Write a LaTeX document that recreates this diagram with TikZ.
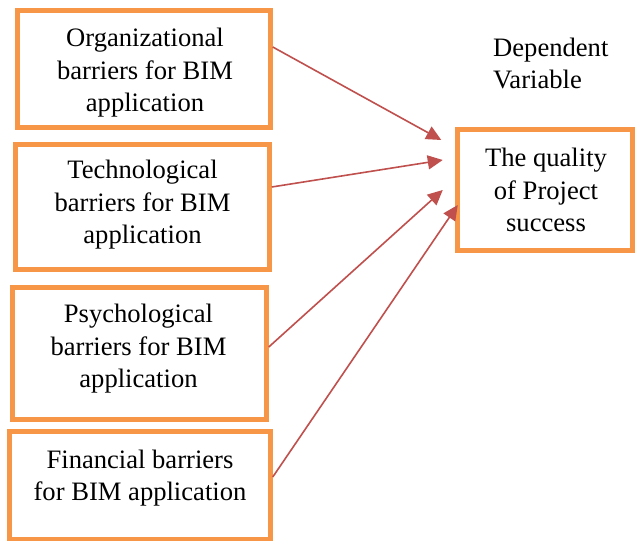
\documentclass[tikz,border=0pt]{standalone}
\usepackage{fontspec}
\setmainfont{Liberation Serif}
\usetikzlibrary{arrows.meta}
\definecolor{boxorange}{HTML}{F79646}
\definecolor{arrred}{HTML}{C0504D}
\tikzset{
  box/.style={draw=boxorange, line width=4.5bp, rectangle, inner sep=0pt},
  txt/.style={align=center, inner sep=0pt, font=\fontsize{26.6bp}{32.5bp}\selectfont},
  conn/.style={draw=arrred, line width=1.6bp, -{Triangle[length=15bp,width=14bp]}}
}
\begin{document}
\begin{tikzpicture}[x=1bp,y=-1bp]
\useasboundingbox[fill=white] (0,0) rectangle (636,541);
% boxes
\node[box, minimum width=253bp, minimum height=117bp] (b1) at (144,69) {};
\node[box, minimum width=254bp, minimum height=125bp] (b2) at (142.5,207) {};
\node[box, minimum width=254bp, minimum height=132bp] (b3) at (139.5,353.5) {};
\node[box, minimum width=261bp, minimum height=108bp] (b4) at (140,485.5) {};
\node[box, minimum width=175bp, minimum height=121bp] (t) at (545,190) {};
% texts
\node[txt] (t1) at (145,73) {Organizational\\barriers for BIM\\application};
\node[txt] (t2) at (142.5,205) {Technological\\barriers for BIM\\application};
\node[txt] (t3) at (138.5,349) {Psychological\\barriers for BIM\\application};
\node[txt] (t4) at (140,478) {Financial barriers\\for BIM application};
\node[txt] (tt) at (546,190) {The quality\\of Project\\success};
\node[txt, align=left, anchor=west] (dv) at (493,63.5) {Dependent\\Variable};
% connectors
\draw[conn] ([yshift=22bp]b1.east) -- ([xshift=-14bp,yshift=50bp]t.west);
\draw[conn] ([yshift=20bp]b2.east) -- ([xshift=-12.5bp,yshift=30bp]t.west);
\draw[conn] ([yshift=6.5bp]b3.east) -- ([xshift=-12.5bp,yshift=0bp]t.west);
\draw[conn] ([yshift=8.5bp]b4.east) -- ([xshift=2.5bp,yshift=-15bp]t.west);
\end{tikzpicture}
\end{document}
